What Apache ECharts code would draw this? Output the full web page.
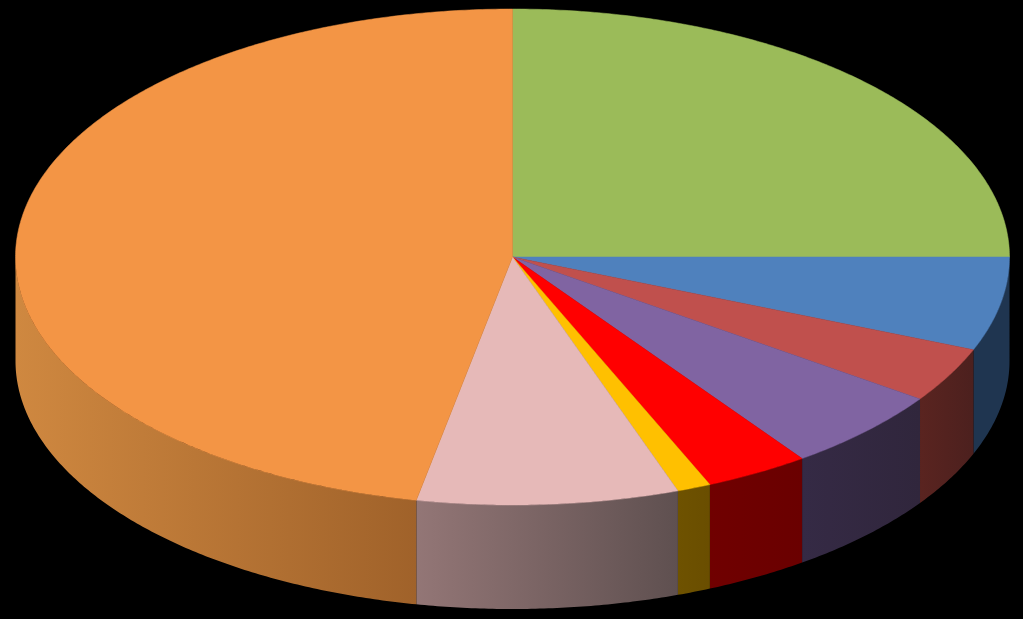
<!DOCTYPE html>
<html>
<head>
<meta charset="utf-8">
<style>html,body{margin:0;padding:0;background:#000}#c{width:1023px;height:619px}</style>
<script src="https://cdn.jsdelivr.net/npm/echarts@6/dist/echarts.min.js"></script>
</head>
<body>
<div id="c"></div>
<script>
var categories = ['A','B','C','D','E','F','G','H'];
var values = [25.0, 6.1, 3.6, 5.4, 3.4, 1.1, 8.5, 46.9];
var topColors = ['#9BBB59','#4F81BD','#C0504D','#8064A2','#FF0000','#FFC000','#E6B9B8','#F39545'];
var sideLeft  = ['#5d7035','#1f3550','#5a2420','#352a45','#700000','#6e5200','#937676','#cf8840'];
var sideRight = ['#5d7035','#1f3550','#4c201e','#30263c','#6a0000','#6a4e00','#5f5050','#a0622a'];

var CX = 512.5, CY = 257, RX = 497, RY = 248, DEPTH = 104;
var total = values.reduce(function (a, b) { return a + b; }, 0);

function pt(deg, dy) {
  var r = deg * Math.PI / 180;
  return [CX + RX * Math.sin(r), CY - RY * Math.cos(r) + (dy || 0)];
}
function arc(a, b, dy) {
  var out = [], n = Math.max(2, Math.ceil(Math.abs(b - a) * 2));
  for (var i = 0; i <= n; i++) out.push(pt(a + (b - a) * i / n, dy));
  return out;
}

var chart = echarts.init(document.getElementById('c'), null, { renderer: 'canvas' });
chart.setOption({
  backgroundColor: '#000000',
  animation: false,
  series: [{
    type: 'custom',
    coordinateSystem: 'none',
    silent: true,
    data: values.map(function (v, i) { return { name: categories[i], value: [v, i] }; }),
    renderItem: function (params, api) {
      var i = api.value(1), v = api.value(0), before = 0;
      for (var k = 0; k < i; k++) before += values[k];
      var a = before / total * 360, b = (before + v) / total * 360;
      var children = [];
      var sa = Math.max(a, 90), sb = Math.min(b, 270);
      if (sb > sa) {
        var upper = arc(sa, sb, 0), lower = arc(sb, sa, DEPTH);
        var x0 = pt(sa)[0], x1 = pt(sb)[0];
        children.push({
          type: 'polygon',
          shape: { points: upper.concat(lower) },
          style: {
            fill: new echarts.graphic.LinearGradient(x1, 0, x0, 0, [
              { offset: 0, color: sideLeft[i] },
              { offset: 1, color: sideRight[i] }
            ], true),
            lineWidth: 0
          }
        });
      }
      children.push({
        type: 'polygon',
        shape: { points: [[CX, CY]].concat(arc(a, b, 0)) },
        style: { fill: topColors[i], stroke: topColors[i], lineWidth: 0.5 }
      });
      return { type: 'group', children: children };
    }
  }]
});
</script>
</body>
</html>
